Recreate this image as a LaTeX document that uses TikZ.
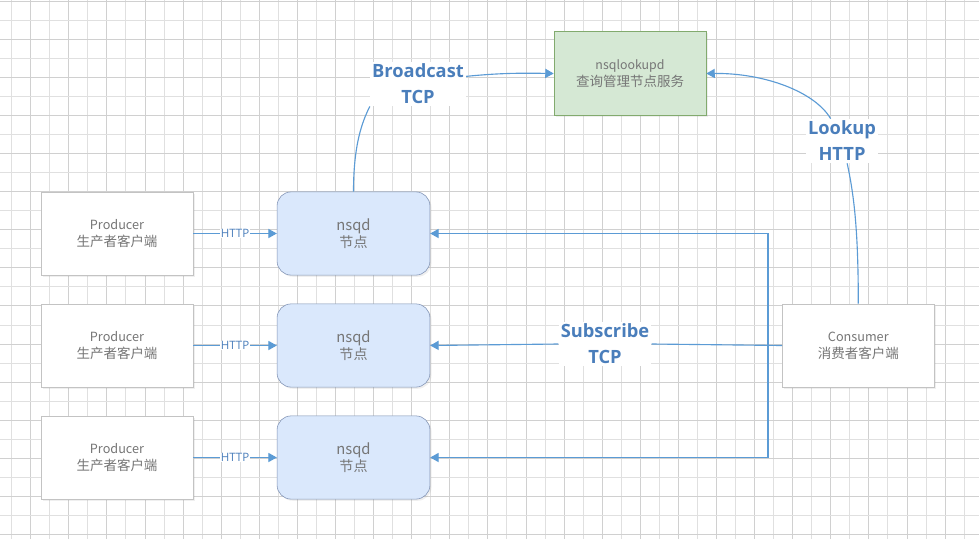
\documentclass[tikz,border=0pt]{standalone}
\usepackage{fontspec}
\setmainfont{Noto Sans CJK SC}
\newfontfamily\lblfont{Open Sans}
\usetikzlibrary{arrows.meta,shadows}
\definecolor{linkblue}{RGB}{91,155,213}
\definecolor{lbltext}{RGB}{74,126,187}
\definecolor{txtgray}{RGB}{118,118,118}
\definecolor{boxgray}{RGB}{195,195,195}
\definecolor{nsqfill}{RGB}{218,232,252}
\definecolor{nsqdraw}{RGB}{128,146,180}
\definecolor{lkfill}{RGB}{213,232,212}
\definecolor{lkdraw}{RGB}{130,170,110}
\definecolor{gridA}{RGB}{224,224,224}
\definecolor{gridB}{RGB}{208,208,208}
\newcommand{\twoline}[2]{{\fontsize{9}{13}\selectfont #1}\\{\fontsize{9.6}{13}\selectfont #2}}
\tikzset{
  client/.style={draw=boxgray,fill=white,text=txtgray,align=center,
    minimum width=3.8cm,minimum height=2.08cm,
    drop shadow={shadow xshift=1.2pt,shadow yshift=-1.2pt,opacity=0.12}},
  nsqdbox/.style={draw=nsqdraw,fill=nsqfill,text=txtgray,align=center,rounded corners=10pt,
    minimum width=3.82cm,minimum height=2.08cm,
    drop shadow={shadow xshift=1.2pt,shadow yshift=-1.2pt,opacity=0.12}},
  lookupbox/.style={draw=lkdraw,fill=lkfill,text=txtgray,align=center,
    minimum width=3.8cm,minimum height=2.09cm,
    drop shadow={shadow xshift=1.2pt,shadow yshift=-1.2pt,opacity=0.12}},
  link/.style={draw=linkblue,line width=0.8pt},
  arr/.style={link,-{Triangle[length=6pt,width=6.5pt]}},
  biglbl/.style={fill=white,text=lbltext,align=center,inner sep=1.5pt,
    font=\lblfont\bfseries\fontsize{13}{18.5}\selectfont},
  httplbl/.style={fill=white,text=lbltext,inner sep=0.5pt,
    font=\lblfont\fontsize{8.2}{10}\selectfont},
  gridline/.style={line width=0.5pt}
}
\begin{document}
\begin{tikzpicture}[x=0.025cm,y=-0.025cm]
\useasboundingbox (0,0) rectangle (979,539);
\fill[white] (0,0) rectangle (979,539);
% background grid
\foreach \i in {0,...,50}{
  \pgfmathsetmacro\gx{11.5+19.05*\i}
  \ifodd\i \draw[gridline,gridB] (\gx,0)--(\gx,539);
  \else \draw[gridline,gridA] (\gx,0)--(\gx,539); \fi
}
\foreach \j in {0,...,28}{
  \pgfmathsetmacro\gy{1+19.05*\j}
  \ifodd\j \draw[gridline,gridA] (0,\gy)--(979,\gy);
  \else \draw[gridline,gridB] (0,\gy)--(979,\gy); \fi
}

% lookup service
\node[lookupbox] (lookup) at (630,73.5)
  {{\fontsize{8.8}{13}\selectfont nsqlookupd}\\{\fontsize{9.6}{13}\selectfont 查询管理节点服务}};

% producers and nsqd nodes
\foreach \k/\yy in {1/233.5,2/345.5,3/457.5}{
  \node[client] (prod\k) at (117,\yy) {\twoline{Producer}{生产者客户端}};
  \node[nsqdbox] (nsqd\k) at (353.5,\yy)
    {{\fontsize{10.5}{12.5}\selectfont nsqd}\\{\fontsize{10}{12.5}\selectfont 节点}};
  \draw[arr] (prod\k.east) -- node[httplbl]{HTTP} (nsqd\k.west);
}

% consumer
\node[client] (consumer) at (858.3,345.5) {\twoline{Consumer}{消费者客户端}};

% labels
\node[biglbl] (bcast) at (418,84) {Broadcast\\TCP};
\node[biglbl] (lkp) at (842,141) {Lookup\\HTTP};
\node[biglbl] (sub) at (605,344) {Subscribe\\TCP};

% broadcast nsqd -> lookup
\draw[link] (nsqd1.north) .. controls (353.5,145) and (362,122) .. (bcast.south west);
\draw[arr] (bcast.9) .. controls (500,73) and (520,73) .. (lookup.west);

% consumer -> lookup
\draw[link] (consumer.north) .. controls (858.3,230) and (854,195) .. (lkp.283);
\draw[arr] (lkp.117) .. controls (815,92) and (765,73) .. (lookup.east);

% subscribe consumer -> nsqd
\coordinate (bus) at (768,345.5);
\draw[link] (consumer.west) -- (sub.east);
\draw[arr] (sub.west) -- (nsqd2.east);
\draw[arr] (bus) |- (nsqd1.east);
\draw[arr] (bus) |- (nsqd3.east);
\end{tikzpicture}
\end{document}
